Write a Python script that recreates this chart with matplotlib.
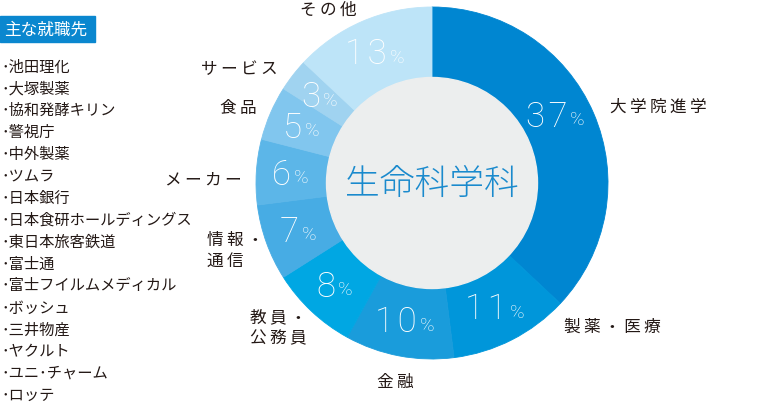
"""生命科学科の進路内訳ドーナツチャート / career breakdown donut."""

import matplotlib

matplotlib.use("Agg")
import matplotlib.pyplot as plt
from matplotlib.patches import Circle, Rectangle
import numpy as np

FONT = ["Noto Sans CJK JP", "DejaVu Sans"]
NUM_FONT = ["Roboto", "DejaVu Sans"]
plt.rcParams["font.family"] = FONT

# データ / data (時計回り、12時から)
categories = ["大学院進学", "製薬・医療", "金融", "教員・\n公務員", "情報・\n通信",
              "メーカー", "食品", "サービス", "その他"]
shares = [37, 11, 10, 8, 7, 6, 5, 3, 13]
employers = ["池田理化", "大塚製薬", "協和発酵キリン", "警視庁", "中外製薬", "ツムラ",
             "日本銀行", "日本食研ホールディングス", "東日本旅客鉄道", "富士通",
             "富士フイルムメディカル", "ボッシュ", "三井物産", "ヤクルト",
             "ユニ･チャーム", "ロッテ"]
dept = "生命科学科"
list_title = "主な就職先"

COLORS = ["#0086d1", "#0096da", "#1a9cdb", "#00a7e3", "#47ace4",
          "#5cb6e8", "#81c6ee", "#a0d3f0", "#bde4f8"]
INK = "#231815"
W, H = 760, 410

# 外側ラベルの配置 (px, 上基準) / outer label layout
LABEL_POS = [(610, 107, "left"), (564, 327, "left"), (395, 382, "center"),
             (250, 328, "left"), (207, 251, "left"), (242, 180, "right"),
             (257, 108, "right"), (278, 70, "right"), (328, 10, "center")]
PCT_NUDGE = [-5, 0, 0, 0, 0, 0, 0, 0, 0]  # 角度の微調整 / angle tweak (deg)


def spaced(s, sep="\u2009"):
    """字間を少し空ける / add letter spacing with thin spaces."""
    return "\n".join(sep.join(line) for line in s.split("\n"))


fig = plt.figure(figsize=(W / 100, H / 100), dpi=100)
ax = fig.add_axes([0, 0, 1, 1])

cx, cy, r_out, r_in = 432, H - 184, 176, 105
wedges, _ = ax.pie(shares, colors=COLORS, startangle=90, counterclock=False,
                   radius=r_out, center=(cx, cy),
                   wedgeprops=dict(width=r_out - r_in, linewidth=0.6))
for w, c in zip(wedges, COLORS):
    w.set_edgecolor(c)
ax.add_patch(Circle((cx, cy), r_in + 0.5, color="#eceeee", zorder=3))
ax.text(cx, cy, dept, ha="center", va="center", fontsize=25,
        color="#1a8acd", fontweight="light", zorder=4)

# パーセント表示 / percentage labels
for w, v, nudge in zip(wedges, shares, PCT_NUDGE):
    ang = np.deg2rad((w.theta1 + w.theta2) / 2 - nudge)
    x, y = cx + 141 * np.cos(ang), cy + 141 * np.sin(ang)
    num = ax.annotate(spaced(str(v), "\u200a"), (x, y), xytext=(-7, 0),
                      textcoords="offset points", ha="center", va="center",
                      fontsize=25, color="white", family=NUM_FONT,
                      fontweight="light", zorder=5)
    ax.annotate("%", xy=(1, 0.14), xycoords=num, xytext=(2, 0),
                textcoords="offset points", ha="left", va="bottom",
                fontsize=14, color="white", family=NUM_FONT,
                fontweight="light", zorder=5)

for name, (x, y, ha) in zip(categories, LABEL_POS):
    ax.text(x, H - y, spaced(name), ha=ha, va="center", fontsize=12, color=INK,
            linespacing=1.3, multialignment="left")

# 主な就職先リスト / employer list
ax.add_patch(Rectangle((0, H - 43), 95, 26, color="#0a87cf"))
ax.text(4, H - 30, list_title, ha="left", va="center", fontsize=12,
        color="white")
for i, name in enumerate(employers):
    ax.text(1, H - (67 + 21.9 * i), "･" + name, ha="left", va="center",
            fontsize=11, color=INK)

ax.set_xlim(0, W)
ax.set_ylim(0, H)
ax.set_aspect("auto")
ax.axis("off")
fig.savefig("out.png", dpi=100)
